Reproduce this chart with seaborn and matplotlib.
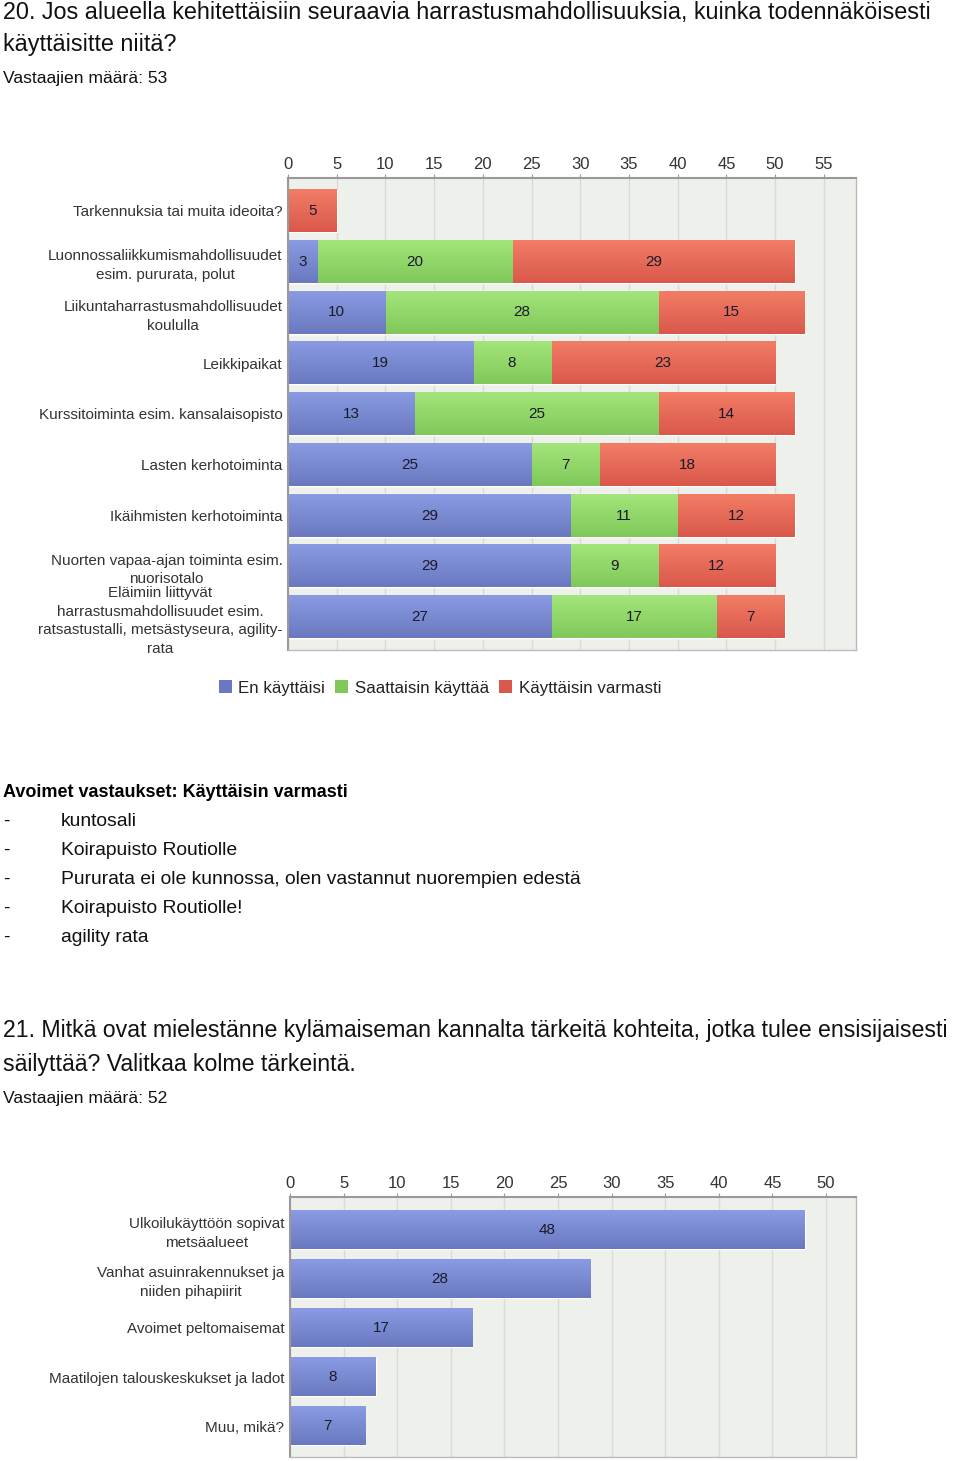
import numpy as np
import pandas as pd
import matplotlib
matplotlib.use("Agg")
import matplotlib.pyplot as plt
import seaborn as sns
from matplotlib.patches import Patch
from matplotlib.colors import LinearSegmentedColormap

# === Data: question 20 ===
activities = [
    "Tarkennuksia tai muita ideoita?",
    "Luonnossaliikkumismahdollisuudet\nesim. pururata, polut",
    "Liikuntaharrastusmahdollisuudet\nkoululla",
    "Leikkipaikat",
    "Kurssitoiminta esim. kansalaisopisto",
    "Lasten kerhotoiminta",
    "Ikäihmisten kerhotoiminta",
    "Nuorten vapaa-ajan toiminta esim.\nnuorisotalo",
    "Eläimiin liittyvät\nharrastusmahdollisuudet esim.\nratsastustalli, metsästyseura, agility-\nrata",
]
en_kayttaisi = [0, 3, 10, 19, 13, 25, 29, 29, 27]
saattaisin = [0, 20, 28, 8, 25, 7, 11, 9, 17]
varmasti = [5, 29, 15, 23, 14, 18, 12, 12, 7]
series_names = ["En käyttäisi", "Saattaisin käyttää", "Käyttäisin varmasti"]

open_answers = [
    "kuntosali",
    "Koirapuisto Routiolle",
    "Pururata ei ole kunnossa, olen vastannut nuorempien edestä",
    "Koirapuisto Routiolle!",
    "agility rata",
]

# === Data: question 21 ===
sites = [
    "Ulkoilukäyttöön sopivat\nmetsäalueet",
    "Vanhat asuinrakennukset ja\nniiden pihapiirit",
    "Avoimet peltomaisemat",
    "Maatilojen talouskeskukset ja ladot",
    "Muu, mikä?",
]
site_counts = [48, 28, 17, 8, 7]

# colours (top, bottom) for the bar gradients
grad = {
    "blue": ("#8a9be3", "#6a79bf"),
    "green": ("#a3e57a", "#80c85a"),
    "red": ("#f27d66", "#da584b"),
}

sns.set_style("white")
plt.rcParams["font.family"] = ["Liberation Sans", "DejaVu Sans"]

W, H = 960, 1461
fig = plt.figure(figsize=(W / 100, H / 100), dpi=100)


def fx(px):
    return px / W


def fy(py):
    return 1 - py / H


def style_axes(ax, xmax, ticks):
    ax.set_facecolor("#eef0eb")
    ax.set_xlim(0, xmax)
    ax.set_xticks(ticks)
    ax.xaxis.tick_top()
    ax.set_axisbelow(True)
    ax.xaxis.grid(True, color="#d9dbd6", lw=1)
    ax.yaxis.grid(False)
    ax.set_xlabel("")
    ax.set_ylabel("")
    ax.tick_params(axis="x", length=3, color="#999999", labelsize=12,
                   labelcolor="#333333", pad=1, top=True, bottom=False)
    ax.tick_params(axis="y", length=0, labelsize=11, labelcolor="#333333", pad=4)
    for lab in ax.get_yticklabels():
        lab.set_multialignment("center")
        lab.set_linespacing(1.42)
    for side in ["top", "left"]:
        ax.spines[side].set_color("#999999")
        ax.spines[side].set_linewidth(1.5)
    for side in ["right", "bottom"]:
        ax.spines[side].set_color("#bbbbbb")
        ax.spines[side].set_linewidth(1)


def gradient_fill(ax, patches, key, z):
    cmap = LinearSegmentedColormap.from_list(key, list(grad[key]))
    g = np.linspace(0, 1, 64).reshape(-1, 1)
    for p in patches:
        x0, y0 = p.get_x(), p.get_y()
        w, h = p.get_width(), p.get_height()
        if w <= 0:
            continue
        ax.imshow(g, cmap=cmap, extent=(x0, x0 + w, y0 + h, y0), origin="upper",
                  aspect="auto", zorder=z, interpolation="bilinear")


# ---- texts for question 20 ----
fig.text(fx(3), fy(12), "20. Jos alueella kehitettäisiin seuraavia harrastusmahdollisuuksia, kuinka todennäköisesti",
         fontsize=16.8, va="center", color="#111111")
fig.text(fx(3), fy(45), "käyttäisitte niitä?", fontsize=16.8, va="center", color="#111111")
fig.text(fx(3), fy(78), "Vastaajien määrä: 53", fontsize=12.6, va="center", color="#111111")

# ---- chart 1 (stacked) ----
ax1 = fig.add_axes([fx(288), fy(650), fx(856 - 288), (650 - 178) / H])
df1 = pd.DataFrame({"activity": activities, "blue": en_kayttaisi,
                    "green": saattaisin, "red": varmasti})
df1["c_blue"] = df1["blue"]
df1["c_green"] = df1["blue"] + df1["green"]
df1["c_red"] = df1["c_green"] + df1["red"]

layers = [("c_red", "red"), ("c_green", "green"), ("c_blue", "blue")]
n_before = 0
for i, (col, key) in enumerate(layers):
    sns.barplot(data=df1, x=col, y="activity", orient="h", color=grad[key][0],
                saturation=1, width=0.83, ax=ax1)
    new = ax1.patches[n_before:]
    n_before = len(ax1.patches)
    gradient_fill(ax1, new, key, 1.1 + 0.1 * i)

for i, row in df1.iterrows():
    left = 0
    for key in ["blue", "green", "red"]:
        v = row[key]
        if v > 0:
            ax1.text(left + v / 2, i, str(v), ha="center", va="center",
                     fontsize=11, color="#1a1a2a", zorder=5)
        left += v

style_axes(ax1, 58.3, range(0, 60, 5))
ax1.set_ylim(len(activities) - 0.35, -0.65)

handles = [Patch(facecolor=grad[k][1], edgecolor="none") for k in ["blue", "green", "red"]]
fig.legend(handles, series_names, loc="center", bbox_to_anchor=(fx(440), fy(688)),
           ncol=3, frameon=False, fontsize=12.2, handlelength=0.75, handleheight=0.75,
           handletextpad=0.4, columnspacing=0.6, labelcolor="#222222")

# ---- open answers ----
fig.text(fx(3), fy(792), "Avoimet vastaukset: Käyttäisin varmasti",
         weight="bold", fontsize=13, va="center", color="#000000")
for k, ans in enumerate(open_answers):
    y = 821 + k * 29.2
    fig.text(fx(3), fy(y), "-", fontsize=13.9, va="center", color="#111111")
    fig.text(fx(61), fy(y), ans, fontsize=13.9, va="center", color="#111111")

# ---- texts for question 21 ----
fig.text(fx(3), fy(1030), "21. Mitkä ovat mielestänne kylämaiseman kannalta tärkeitä kohteita, jotka tulee ensisijaisesti",
         fontsize=16.7, va="center", color="#111111")
fig.text(fx(3), fy(1065), "säilyttää? Valitkaa kolme tärkeintä.", fontsize=16.7, va="center", color="#111111")
fig.text(fx(3), fy(1098), "Vastaajien määrä: 52", fontsize=12.6, va="center", color="#111111")

# ---- chart 2 ----
ax2 = fig.add_axes([fx(290), fy(1457), fx(856 - 290), (1457 - 1197) / H])
df2 = pd.DataFrame({"site": sites, "count": site_counts})
sns.barplot(data=df2, x="count", y="site", orient="h", color=grad["blue"][0],
            saturation=1, width=0.78, ax=ax2)
gradient_fill(ax2, list(ax2.patches), "blue", 1.1)
for i, v in enumerate(site_counts):
    ax2.text(v / 2, i, str(v), ha="center", va="center", fontsize=11,
             color="#1a1a2a", zorder=5)
style_axes(ax2, 52.8, range(0, 55, 5))
ax2.set_ylim(len(sites) - 0.37, -0.67)

fig.savefig("out.png", dpi=100)
